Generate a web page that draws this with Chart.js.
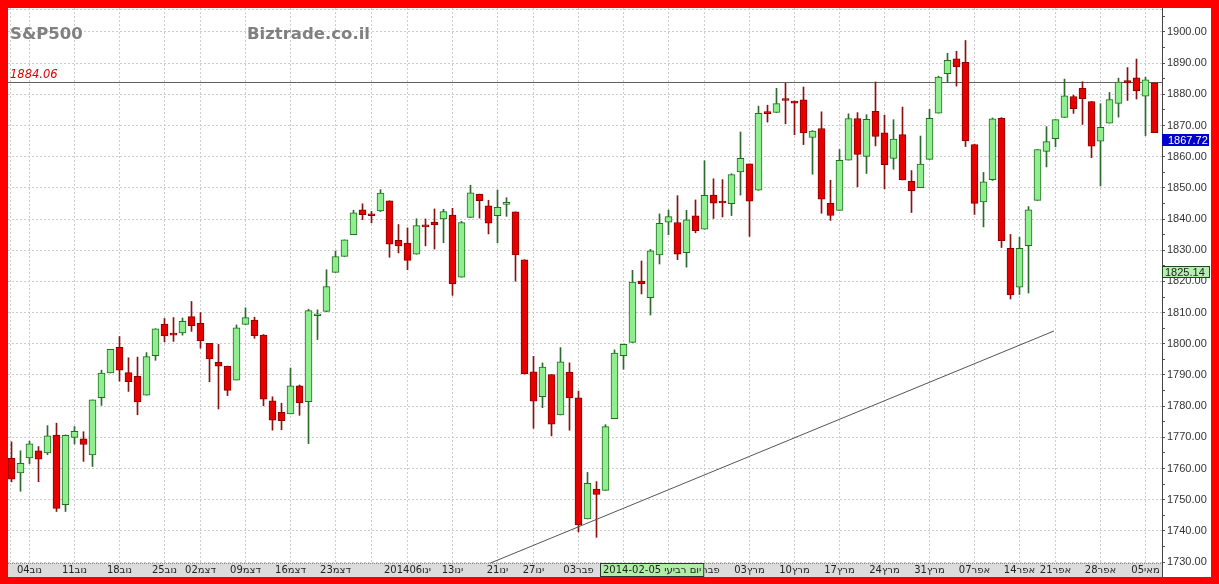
<!DOCTYPE html>
<html><head><meta charset="utf-8">
<script src="https://cdn.jsdelivr.net/npm/chart.js@4.4.1/dist/chart.umd.min.js"></script>
<style>
html,body{margin:0;padding:0;background:#ff0000;width:1219px;height:584px;overflow:hidden}
#wrap{position:absolute;left:8px;top:8px;width:1203px;height:569px;background:#fff}
canvas{display:block}
</style></head><body><div id="wrap"><canvas id="c"></canvas></div>
<script>
const dates = ['2013-10-31','2013-11-01','2013-11-04','2013-11-05','2013-11-06','2013-11-07','2013-11-08','2013-11-11','2013-11-12','2013-11-13','2013-11-14','2013-11-15','2013-11-18','2013-11-19','2013-11-20','2013-11-21','2013-11-22','2013-11-25','2013-11-26','2013-11-27','2013-11-29','2013-12-02','2013-12-03','2013-12-04','2013-12-05','2013-12-06','2013-12-09','2013-12-10','2013-12-11','2013-12-12','2013-12-13','2013-12-16','2013-12-17','2013-12-18','2013-12-19','2013-12-20','2013-12-23','2013-12-24','2013-12-26','2013-12-27','2013-12-30','2013-12-31','2014-01-02','2014-01-03','2014-01-06','2014-01-07','2014-01-08','2014-01-09','2014-01-10','2014-01-13','2014-01-14','2014-01-15','2014-01-16','2014-01-17','2014-01-21','2014-01-22','2014-01-23','2014-01-24','2014-01-27','2014-01-28','2014-01-29','2014-01-30','2014-01-31','2014-02-03','2014-02-04','2014-02-05','2014-02-06','2014-02-07','2014-02-10','2014-02-11','2014-02-12','2014-02-13','2014-02-14','2014-02-18','2014-02-19','2014-02-20','2014-02-21','2014-02-24','2014-02-25','2014-02-26','2014-02-27','2014-02-28','2014-03-03','2014-03-04','2014-03-05','2014-03-06','2014-03-07','2014-03-10','2014-03-11','2014-03-12','2014-03-13','2014-03-14','2014-03-17','2014-03-18','2014-03-19','2014-03-20','2014-03-21','2014-03-24','2014-03-25','2014-03-26','2014-03-27','2014-03-28','2014-03-31','2014-04-01','2014-04-02','2014-04-03','2014-04-04','2014-04-07','2014-04-08','2014-04-09','2014-04-10','2014-04-11','2014-04-14','2014-04-15','2014-04-16','2014-04-17','2014-04-21','2014-04-22','2014-04-23','2014-04-24','2014-04-25','2014-04-28','2014-04-29','2014-04-30','2014-05-01','2014-05-02','2014-05-05','2014-05-06'];

const open = [1763.24,1758.61,1763.40,1765.67,1765.00,1770.74,1748.37,1769.96,1769.51,1764.37,1782.75,1790.66,1798.82,1790.79,1789.59,1783.52,1796.19,1806.33,1802.87,1803.48,1808.69,1806.55,1800.10,1794.08,1792.82,1788.36,1806.21,1807.60,1802.76,1781.71,1777.98,1777.48,1786.47,1781.46,1809.00,1810.39,1822.92,1828.02,1834.96,1842.97,1841.47,1842.61,1845.86,1833.21,1832.31,1828.71,1837.90,1839.00,1840.06,1841.26,1821.36,1840.52,1847.99,1844.23,1841.05,1844.71,1842.29,1826.96,1791.03,1783.00,1790.15,1777.17,1790.88,1782.68,1743.82,1753.38,1752.99,1776.01,1796.20,1800.45,1820.12,1814.82,1828.46,1839.03,1838.90,1829.24,1841.07,1836.78,1847.66,1845.79,1844.90,1855.12,1857.68,1849.23,1874.05,1874.18,1878.52,1877.86,1878.26,1866.15,1869.06,1845.07,1842.81,1858.92,1872.25,1860.09,1874.53,1867.67,1859.48,1867.09,1852.11,1850.07,1859.16,1873.96,1886.61,1891.43,1890.25,1863.92,1845.48,1852.64,1872.28,1830.65,1818.18,1831.45,1846.01,1861.73,1865.79,1872.57,1879.32,1881.97,1877.72,1865.00,1870.78,1877.10,1884.39,1885.30,1879.45,1883.69];
const high = [1768.53,1765.67,1768.78,1767.03,1773.74,1774.54,1770.78,1773.44,1771.78,1782.00,1791.53,1798.22,1802.33,1795.51,1795.73,1797.16,1804.84,1808.10,1808.42,1808.27,1813.55,1810.02,1800.10,1799.80,1792.82,1806.04,1811.52,1808.52,1802.97,1782.99,1780.92,1792.22,1786.77,1811.08,1810.88,1823.75,1829.75,1833.32,1842.84,1844.89,1842.47,1849.44,1845.86,1838.24,1837.16,1840.10,1840.02,1843.23,1843.15,1843.45,1839.26,1850.84,1847.99,1846.04,1849.31,1846.87,1842.29,1826.96,1795.98,1793.87,1790.15,1798.77,1793.88,1784.83,1758.73,1755.79,1774.06,1798.03,1799.94,1823.54,1826.55,1830.25,1841.65,1842.87,1847.50,1842.79,1846.13,1858.71,1852.91,1852.65,1854.53,1867.92,1857.68,1876.23,1876.53,1881.94,1883.57,1877.87,1882.35,1868.38,1874.40,1852.44,1862.30,1873.76,1874.14,1873.49,1883.97,1873.34,1871.87,1875.92,1855.55,1866.63,1875.18,1885.84,1893.17,1893.80,1897.28,1864.04,1854.95,1872.43,1872.53,1835.07,1834.19,1844.02,1862.31,1869.63,1871.89,1884.89,1879.75,1884.06,1877.72,1877.01,1880.60,1885.20,1888.59,1891.33,1885.51,1883.69];
const low = [1755.72,1752.70,1761.56,1755.76,1764.40,1746.20,1746.20,1767.85,1762.29,1760.64,1780.22,1790.66,1788.00,1784.72,1777.23,1783.52,1794.70,1800.58,1800.77,1802.77,1803.98,1798.60,1787.85,1779.09,1783.38,1788.36,1806.21,1801.75,1780.09,1772.28,1772.45,1777.48,1777.05,1767.99,1801.35,1810.25,1822.92,1828.02,1834.96,1839.81,1838.77,1842.41,1827.74,1829.13,1823.73,1828.71,1831.40,1830.38,1832.43,1815.52,1821.36,1840.52,1840.30,1835.23,1832.38,1840.88,1820.06,1790.29,1772.88,1779.49,1770.45,1777.17,1772.26,1739.66,1743.82,1737.92,1752.99,1776.01,1791.83,1800.41,1815.97,1809.22,1825.59,1835.01,1826.99,1824.58,1835.60,1836.78,1840.19,1840.66,1841.13,1847.67,1834.44,1849.23,1871.11,1874.18,1870.56,1867.04,1863.88,1854.38,1841.86,1839.57,1842.81,1858.92,1850.35,1854.63,1863.46,1849.69,1855.96,1852.56,1842.11,1850.07,1859.16,1873.96,1883.79,1882.65,1863.26,1841.48,1837.49,1852.38,1830.87,1814.36,1815.80,1816.29,1846.01,1856.72,1863.18,1872.57,1873.91,1870.34,1859.70,1850.61,1870.78,1872.69,1878.04,1878.50,1866.77,1867.72];
const close = [1756.54,1761.64,1767.93,1762.97,1770.49,1747.15,1770.61,1771.89,1767.69,1782.00,1790.62,1798.18,1791.53,1787.87,1781.37,1795.85,1804.76,1802.48,1802.75,1807.23,1805.81,1800.90,1795.15,1792.81,1785.03,1805.09,1808.37,1802.62,1782.22,1775.50,1775.32,1786.54,1781.00,1810.65,1809.60,1818.32,1827.99,1833.32,1842.02,1841.40,1841.07,1848.36,1831.98,1831.37,1826.77,1837.88,1837.49,1838.13,1842.37,1819.20,1838.88,1848.38,1845.89,1838.70,1843.80,1844.86,1828.46,1790.29,1781.56,1792.50,1774.20,1794.19,1782.59,1741.89,1755.20,1751.64,1773.43,1797.02,1799.84,1819.75,1819.26,1829.83,1838.63,1840.76,1828.75,1839.78,1836.25,1847.61,1845.12,1845.16,1854.29,1859.45,1845.73,1873.91,1873.81,1877.03,1878.04,1877.17,1867.63,1868.20,1846.34,1841.13,1858.83,1872.25,1860.77,1872.01,1866.52,1857.44,1865.62,1852.56,1849.04,1857.62,1872.34,1885.52,1890.90,1888.77,1865.09,1845.04,1851.96,1872.18,1833.08,1815.69,1830.61,1842.98,1862.31,1864.85,1871.89,1879.55,1875.39,1878.61,1863.40,1869.43,1878.33,1883.95,1883.68,1881.14,1884.66,1867.72];

const weekTickIdx = [2,7,12,17,21,26,31,36,40,44,49,54,58,63,68,73,77,82,87,92,97,102,107,112,116,121,126];
const weekTickLabels = ['04נוב','11נוב','18נוב','25נוב','02דצמ','09דצמ','16דצמ','23דצמ','','201406ינו','13ינו','21ינו','27ינו','03פבר','10פבר','18פבר','24פבר','03מרץ','10מרץ','17מרץ','24מרץ','31מרץ','07אפר','14אפר','21אפר','28אפר','05מאי'];

const refLineValue = 1884.06;
const trendX = [53.17, 115.83];
const trendY = [1729.6, 1804.1];
const lastPrice = 1867.72;
const cursorPrice = 1825.14;
const cursorDateIdx = 65;
const cursorDateLabel = '2014-02-05 יום רביעי';
const titleLeft = 'S&P500';
const titleRight = 'Biztrade.co.il';

const isUp = i => close[i] >= open[i];
const GRID = '#cdcdcd';

const deco = {
  id: 'deco',
  beforeDraw(chart) {
    const {ctx, chartArea: a, width, height} = chart;
    ctx.save();
    ctx.fillStyle = '#ffffff';
    ctx.fillRect(0, 0, width, height);
    ctx.fillStyle = '#dcdcdc';
    ctx.fillRect(a.left, a.bottom, a.right - a.left, height - a.bottom);
    ctx.restore();
  },
  beforeDatasetsDraw(chart) {
    const {ctx, chartArea: a} = chart;
    const ys = chart.scales.y;
    ctx.save();
    ctx.strokeStyle = GRID;
    ctx.lineWidth = 1;
    ctx.setLineDash([2, 2]);
    ctx.beginPath();
    ctx.moveTo(a.left + 2.5, a.top); ctx.lineTo(a.left + 2.5, a.bottom);
    ctx.moveTo(a.left, a.top + 1.5); ctx.lineTo(a.right, a.top + 1.5);
    ctx.stroke();
    ctx.setLineDash([]);
    const y = Math.round(ys.getPixelForValue(refLineValue)) + 0.5;
    ctx.strokeStyle = '#606060';
    ctx.beginPath();
    ctx.moveTo(a.left, y); ctx.lineTo(a.right, y);
    ctx.stroke();
    ctx.restore();
  },
  afterDraw(chart) {
    const {ctx, chartArea: a, width, height} = chart;
    const ys = chart.scales.y, xs = chart.scales.x;
    ctx.save();
    ctx.font = 'bold 16.5px "DejaVu Sans"';
    ctx.fillStyle = '#808080';
    ctx.textBaseline = 'alphabetic';
    ctx.textAlign = 'left';
    ctx.fillText(titleLeft, a.left + 2, 31);
    ctx.fillText(titleRight, a.left + 239, 31);
    const yr = ys.getPixelForValue(refLineValue);
    ctx.font = 'italic 11.5px "DejaVu Sans"';
    ctx.fillStyle = '#e00000';
    ctx.fillText(refLineValue.toFixed(2), a.left + 2, yr - 4);
    ctx.strokeStyle = '#8a8a8a';
    ctx.lineWidth = 1;
    ctx.setLineDash([1, 1]);
    ctx.beginPath();
    ctx.moveTo(a.left, a.bottom + 0.5); ctx.lineTo(a.right, a.bottom + 0.5);
    ctx.stroke();
    ctx.setLineDash([]);
    ctx.strokeStyle = '#444';
    ctx.beginPath();
    ctx.moveTo(a.right + 0.5, 0); ctx.lineTo(a.right + 0.5, height);
    ctx.stroke();
    ctx.font = '11px "Liberation Sans"';
    ctx.textBaseline = 'middle';
    let t = Math.round(ys.getPixelForValue(lastPrice)) + 1;
    ctx.fillStyle = '#0000cc';
    ctx.fillRect(a.right, t, 47, 12);
    ctx.fillStyle = '#ffffff';
    ctx.fillText(lastPrice.toFixed(2), a.right + 6, t + 6.5);
    t = Math.round(ys.getPixelForValue(cursorPrice)) + 1;
    ctx.fillStyle = '#b6f0b0';
    ctx.fillRect(a.right, t, 48, 12);
    ctx.strokeStyle = '#1e4a1e';
    ctx.strokeRect(a.right + 0.5, t + 0.5, 47, 11);
    ctx.fillStyle = '#222';
    ctx.fillText(cursorPrice.toFixed(2), a.right + 3, t + 6.5);
    ctx.font = '10px "DejaVu Sans"';
    const tw = ctx.measureText(cursorDateLabel).width;
    const bx = Math.round(xs.getPixelForValue(cursorDateIdx)) + 4;
    const by = a.bottom;
    ctx.fillStyle = '#b0eea8';
    ctx.fillRect(bx, by, tw + 6, height - by);
    ctx.strokeStyle = '#333';
    ctx.strokeRect(bx + 0.5, by + 0.5, tw + 5, height - by - 1);
    ctx.fillStyle = '#222';
    ctx.fillText(cursorDateLabel, bx + 3, by + 7.5);
    ctx.restore();
  }
};

Chart.defaults.font.family = '"DejaVu Sans"';

new Chart(document.getElementById('c'), {
  type: 'bar',
  data: {
    datasets: [
      {
        type: 'line', label: 'trend',
        data: trendX.map((x, i) => ({x: x, y: trendY[i]})),
        borderColor: '#555', borderWidth: 1, pointRadius: 0, tension: 0, order: 0, fill: false
      },
      {
        label: 'body',
        data: open.map((o, i) => ({x: i, y: [o, close[i]]})),
        backgroundColor: c => isUp(c.dataIndex) ? '#90ee90' : '#e60000',
        borderColor: c => isUp(c.dataIndex) ? '#1f6f1f' : '#8b0000',
        borderWidth: 1, borderSkipped: false, barThickness: 7, minBarLength: 2,
        grouped: false, order: 1
      },
      {
        label: 'wick',
        data: low.map((l, i) => ({x: i, y: [l, high[i]]})),
        backgroundColor: c => isUp(c.dataIndex) ? '#2d6a2d' : '#8b1010',
        borderWidth: 0, barThickness: 1, grouped: false, order: 2
      }
    ]
  },
  options: {
    responsive: true, maintainAspectRatio: false, animation: false, events: [],
    layout: {padding: 0},
    plugins: {legend: {display: false}, tooltip: {enabled: false}, title: {display: false}},
    scales: {
      x: {
        type: 'linear', position: 'bottom', min: -3.5 / 9, max: (1154 - 3.5) / 9, offset: false,
        afterBuildTicks: s => { s.ticks = weekTickIdx.map(v => ({value: v})); },
        afterFit: s => { s.height = 14; s.paddingLeft = 0; s.paddingRight = 0; },
        ticks: {autoSkip: false, maxRotation: 0, minRotation: 0, padding: 1, color: '#222',
          font: {family: '"DejaVu Sans"', size: 10},
          callback: (v, i) => weekTickLabels[i]},
        grid: {color: GRID, drawTicks: false, offset: false},
        border: {display: false, dash: [2, 2]}
      },
      y: {
        type: 'linear', position: 'right', min: 1729.68, max: 1907.698,
        afterFit: s => { s.width = 49; s.paddingTop = 0; s.paddingBottom = 0; },
        ticks: {stepSize: 5, includeBounds: false, autoSkip: false, padding: 2, color: '#333',
          font: {family: '"Liberation Sans"', size: 11},
          callback: v => (Math.round(v) % 10 === 0 ? v.toFixed(2) : '')},
        grid: {
          color: c => (c.tick && Math.round(c.tick.value) % 10 === 0) ? GRID : 'rgba(0,0,0,0)',
          tickColor: '#555', tickLength: 3, tickBorderDash: [], drawTicks: true
        },
        border: {display: true, color: '#444', width: 1, dash: [2, 2]}
      }
    }
  },
  plugins: [deco]
});
</script>
</body></html>
